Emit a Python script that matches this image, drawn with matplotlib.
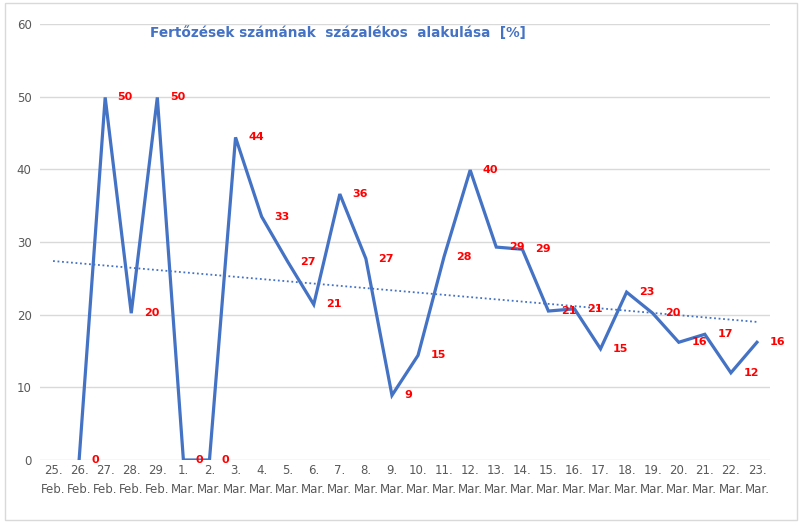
import numpy as np
import matplotlib
matplotlib.use("Agg")
from matplotlib import pyplot as plt
from matplotlib.patches import Rectangle

# categories (day + month) and the percentage values
days = ["25.", "26.", "27.", "28.", "29.", "1.", "2.", "3.", "4.", "5.", "6.", "7.", "8.", "9.",
        "10.", "11.", "12.", "13.", "14.", "15.", "16.", "17.", "18.", "19.", "20.", "21.", "22.", "23."]
months = ["Feb."] * 5 + ["Mar."] * 23
# 25. Feb. has no value
values = [np.nan, 0, 49.9, 20.2, 49.9, 0, 0, 44.4, 33.5, 27.3, 21.4, 36.6, 27.7, 8.9, 14.4,
          28.0, 39.9, 29.3, 29.0, 20.5, 20.8, 15.3, 23.1, 20.2, 16.2, 17.3, 12.0, 16.2]
labels = ["", "0", "50", "20", "50", "0", "0", "44", "33", "27", "21", "36", "27", "9", "15",
          "28", "40", "29", "29", "21", "21", "15", "23", "20", "16", "17", "12", "16"]
title = "Fertőzések számának  százalékos  alakulása  [%]"

blue = "#4472C4"
grey = "#595959"

x = np.arange(len(days))
y = np.array(values, dtype=float)

fig = plt.figure(figsize=(8.08, 5.25), dpi=100)
ax = fig.add_axes([40 / 808, 1 - 460 / 525, 730 / 808, 436 / 525])

# light frame around the whole chart like the excel chart area
fig.patches.append(Rectangle((5 / 808, 5 / 525), 792 / 808, 517 / 525, transform=fig.transFigure,
                             fill=False, edgecolor="#d9d9d9", linewidth=1))

ax.plot(x, y, color=blue, linewidth=2.3, solid_joinstyle="miter", zorder=3)

# linear trendline over the known points
ok = ~np.isnan(y)
k, b = np.polyfit(x[ok], y[ok], 1)
ax.plot(x, k * x + b, color=blue, linestyle=(0, (1, 1.5)), linewidth=1.3, zorder=2)

for xi, yi, lab in zip(x, y, labels):
    if lab:
        ax.annotate(lab, (xi, yi), xytext=(9, 0), textcoords="offset points",
                    ha="left", va="center", color="red", fontsize=8, fontweight="bold", zorder=4)

ax.set_xlim(-0.5, len(days) - 0.5)
ax.set_ylim(0, 60)
ax.set_yticks(range(0, 61, 10))
ax.set_xticks(x)
ax.set_xticklabels([d + "\n" + m for d, m in zip(days, months)], fontsize=8.5, color=grey,
                   linespacing=1.6)
ax.tick_params(axis="y", labelsize=8.5, labelcolor=grey, length=0, pad=6)
ax.tick_params(axis="x", length=0, pad=3)
ax.grid(axis="y", color="#d9d9d9", linewidth=1)
ax.set_axisbelow(True)
for s in ax.spines.values():
    s.set_visible(False)

fig.text(150 / 808, 1 - 33 / 525, title, color=blue, fontsize=9.8, fontweight="bold",
         ha="left", va="center")

fig.savefig("out.png", dpi=100)
